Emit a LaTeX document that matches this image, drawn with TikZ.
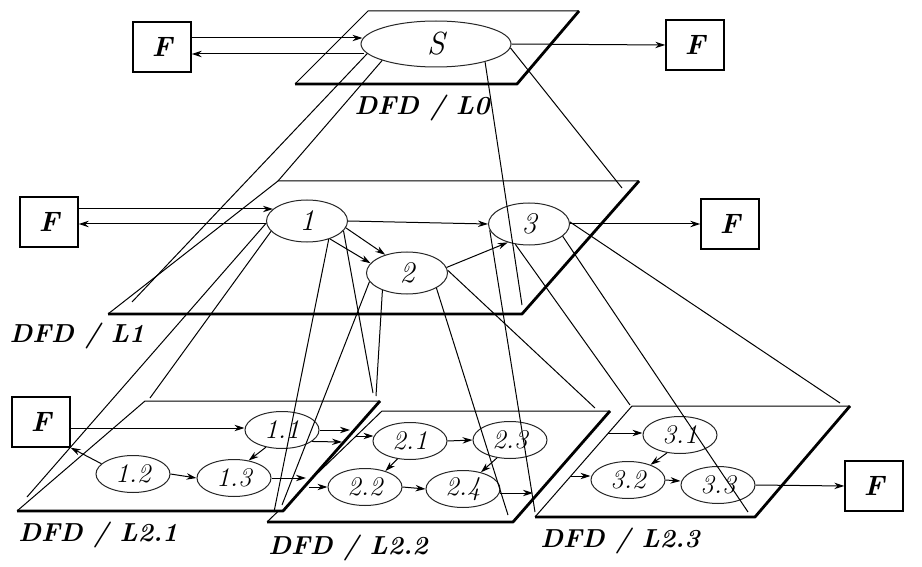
\documentclass[tikz,border=0pt]{standalone}
\usepackage{fontspec}
\usetikzlibrary{shapes,arrows.meta,calc}
\tikzstyle{ext} = [rectangle, draw, line width=0.7pt, fill=white, minimum width=29pt, minimum height=25pt, inner sep=0pt, font=\fontsize{14}{16}\selectfont\bfseries\itshape]
\tikzstyle{proc} = [ellipse, draw=black!85, line width=0.5pt, fill=white, inner sep=0pt, minimum width=37pt, minimum height=18.5pt, font=\fontsize{13.5}{15}\selectfont\itshape]
\tikzstyle{lvl} = [proc, minimum width=40.5pt, minimum height=21pt, font=\fontsize{15}{17}\selectfont\itshape]
\tikzstyle{root} = [proc, minimum width=75pt, minimum height=23pt, font=\fontsize{16}{18}\selectfont\itshape]
\tikzstyle{lvlname} = [font=\fontsize{13}{15}\selectfont\bfseries\itshape]
\tikzstyle{edge} = [draw, line width=0.5pt]
\tikzstyle{rim} = [draw, line width=1.4pt, line join=bevel]
\tikzstyle{line} = [draw, line width=0.5pt, -{Stealth[length=5pt,width=3.2pt]}]
\tikzstyle{proj} = [draw, line width=0.5pt]

\begin{document}
\begin{tikzpicture}[x=0.5pt,y=-0.5pt]
\useasboundingbox (0,0) rectangle (922,567);

% corners of the planes
\coordinate (a0) at (368,11);  \coordinate (b0) at (579,11);  \coordinate (c0) at (517,84);  \coordinate (d0) at (295,84);
\coordinate (a1) at (278,181); \coordinate (b1) at (639,181); \coordinate (c1) at (522,314); \coordinate (d1) at (108,314);
\coordinate (a23) at (632,406); \coordinate (b23) at (850,406); \coordinate (c23) at (755,517); \coordinate (d23) at (535,517);
\coordinate (a22) at (382,411); \coordinate (b22) at (610,411); \coordinate (c22) at (513,522); \coordinate (d22) at (267,522);
\coordinate (a21) at (145,401); \coordinate (b21) at (380,401); \coordinate (c21) at (283,511); \coordinate (d21) at (17,511);

\foreach \k in {0,1,23,22,21} {
  \fill[white] (a\k) -- (b\k) -- (c\k) -- (d\k) -- cycle;
  \path[edge] (d\k) -- (a\k) -- (b\k);
  \path[rim] (b\k) -- (c\k) -- (d\k);
}

\node [lvlname] (n0) at (422,108) {DFD / L0};
\node [lvlname] (n1) at (77,336) {DFD / L1};
\node [lvlname] (n21) at (98,535) {DFD / L2.1};
\node [lvlname] (n22) at (348,548) {DFD / L2.2};
\node [lvlname] (n23) at (620,541) {DFD / L2.3};

% level 0
\node [root] (S) at (436,44) {S};
\node [ext] (f0l) at (162,47) {F};
\node [ext] (f0r) at (695,45) {F};

% level 1
\node [lvl] (p1) at (307,221) {1};
\node [lvl] (p2) at (407,273) {2};
\node [lvl] (p3) at (529,224) {3};
\node [ext] (f1l) at (49,222) {F};
\node [ext] (f1r) at (730,224) {F};

% level 2
\node [ext] (f2) at (41,422) {F};
\node [proc] (p11) at (282,430) {1.1};
\node [proc] (p12) at (133,474) {1.2};
\node [proc] (p13) at (234,478) {1.3};
\node [proc] (p21) at (410,441) {2.1};
\node [proc] (p23) at (510,440) {2.3};
\node [proc] (p22) at (365,487) {2.2};
\node [proc] (p24) at (463,489) {2.4};
\node [proc] (p31) at (680,435) {3.1};
\node [proc] (p32) at (628,480) {3.2};
\node [proc] (p33) at (718,485) {3.3};
\node [ext] (f3) at (874,486) {F};

% loose ends at the plane borders
\coordinate (o13) at (306,478);
\coordinate (o11a) at (350,430);
\coordinate (o11b) at (342,442);
\coordinate (i21) at (355,436);
\coordinate (i22) at (309,487);
\coordinate (o24) at (533,493);
\coordinate (i31) at (608,433);
\coordinate (i32) at (571,476);

% now the flows
\path [line] ($(f0l.east)+(0,-9)$) -- ($(S.west)+(2,-6)$);
\path [line] ($(S.west)+(3,10)$) -- ($(f0l.east)+(0,7)$);
\path [line] (S.east) -- (f0r.west);

\path [line] ($(f1l.east)+(0,-13)$) -- ($(p1.west)+(7,-12)$);
\path [line] ($(p1.west)+(0,3)$) -- ($(f1l.east)+(0,2)$);
\path [line] (p1.east) -- (p3.west);
\path [line] (p1.-10) -- (p2.140);
\path [line] (p1.-38) -- (p2.165);
\path [line] (p2.8) -- (p3.221);
\path [line] (p3.east) -- (f1r.west);

\path [line] ($(f2.east)+(0,6)$) -- ($(p11.west)+(0,-2)$);
\path [line] (p12.162) -- (f2.south east);
\path [line] (p11.227) -- (p13.50);
\path [line] (p12.east) -- (p13.west);
\path [line] (p13.east) -- (o13);
\path [line] (p11.east) -- (o11a);
\path [line] (p11.-21) -- (o11b);

\path [line] (i21) -- ($(p21.west)+(1,-5)$);
\path [line] (i22) -- (p22.west);
\path [line] (p21.east) -- (p23.west);
\path [line] (p21.235) -- (p22.38);
\path [line] (p23.234) -- (p24.43);
\path [line] (p22.east) -- (p24.west);
\path [line] ($(p24.east)+(-1,4)$) -- (o24);

\path [line] (i31) -- ($(p31.west)+(0,-2)$);
\path [line] (i32) -- ($(p32.west)+(0,-4)$);
\path [line] (p31.234) -- (p32.34);
\path [line] (p32.east) -- ($(p33.west)+(0,-4)$);
\path [line] (p33.east) -- (f3.west);

% projections from one level to the next
\path [proj] (S.188) -- ($(d1)+(24,-12)$);
\path [proj] (S.197) -- (a1);
\path [proj] (S.-20) -- ($(c1)+(0,-9)$);
\path [proj] (S.-3) -- ($(b1)+(-17,7)$);

\path [proj] (p1.183) -- ($(d21)+(10,-14)$);
\path [proj] (p1.196) -- ($(a21)+(5,-3)$);
\path [proj] (p1.-40) -- ($(c21)+(-9,1)$);
\path [proj] (p1.-15) -- ($(b21)+(-7,-8)$);

\path [proj] (p2.215) -- ($(a22)+(-6,-15)$);
\path [proj] (p2.193) -- ($(d22)+(15,-17)$);
\path [proj] (p2.-27) -- ($(c22)+(-5,-7)$);
\path [proj] (p2.4) -- ($(b22)+(-15,-3)$);

\path [proj] (p3.189) -- ($(d23)+(0,-5)$);
\path [proj] (p3.236) -- ($(a23)+(-2,-1)$);
\path [proj] (p3.-20) -- ($(c23)+(-7,-5)$);
\path [proj] (p3.3) -- ($(b23)+(-10,-3)$);

\end{tikzpicture}
\end{document}
